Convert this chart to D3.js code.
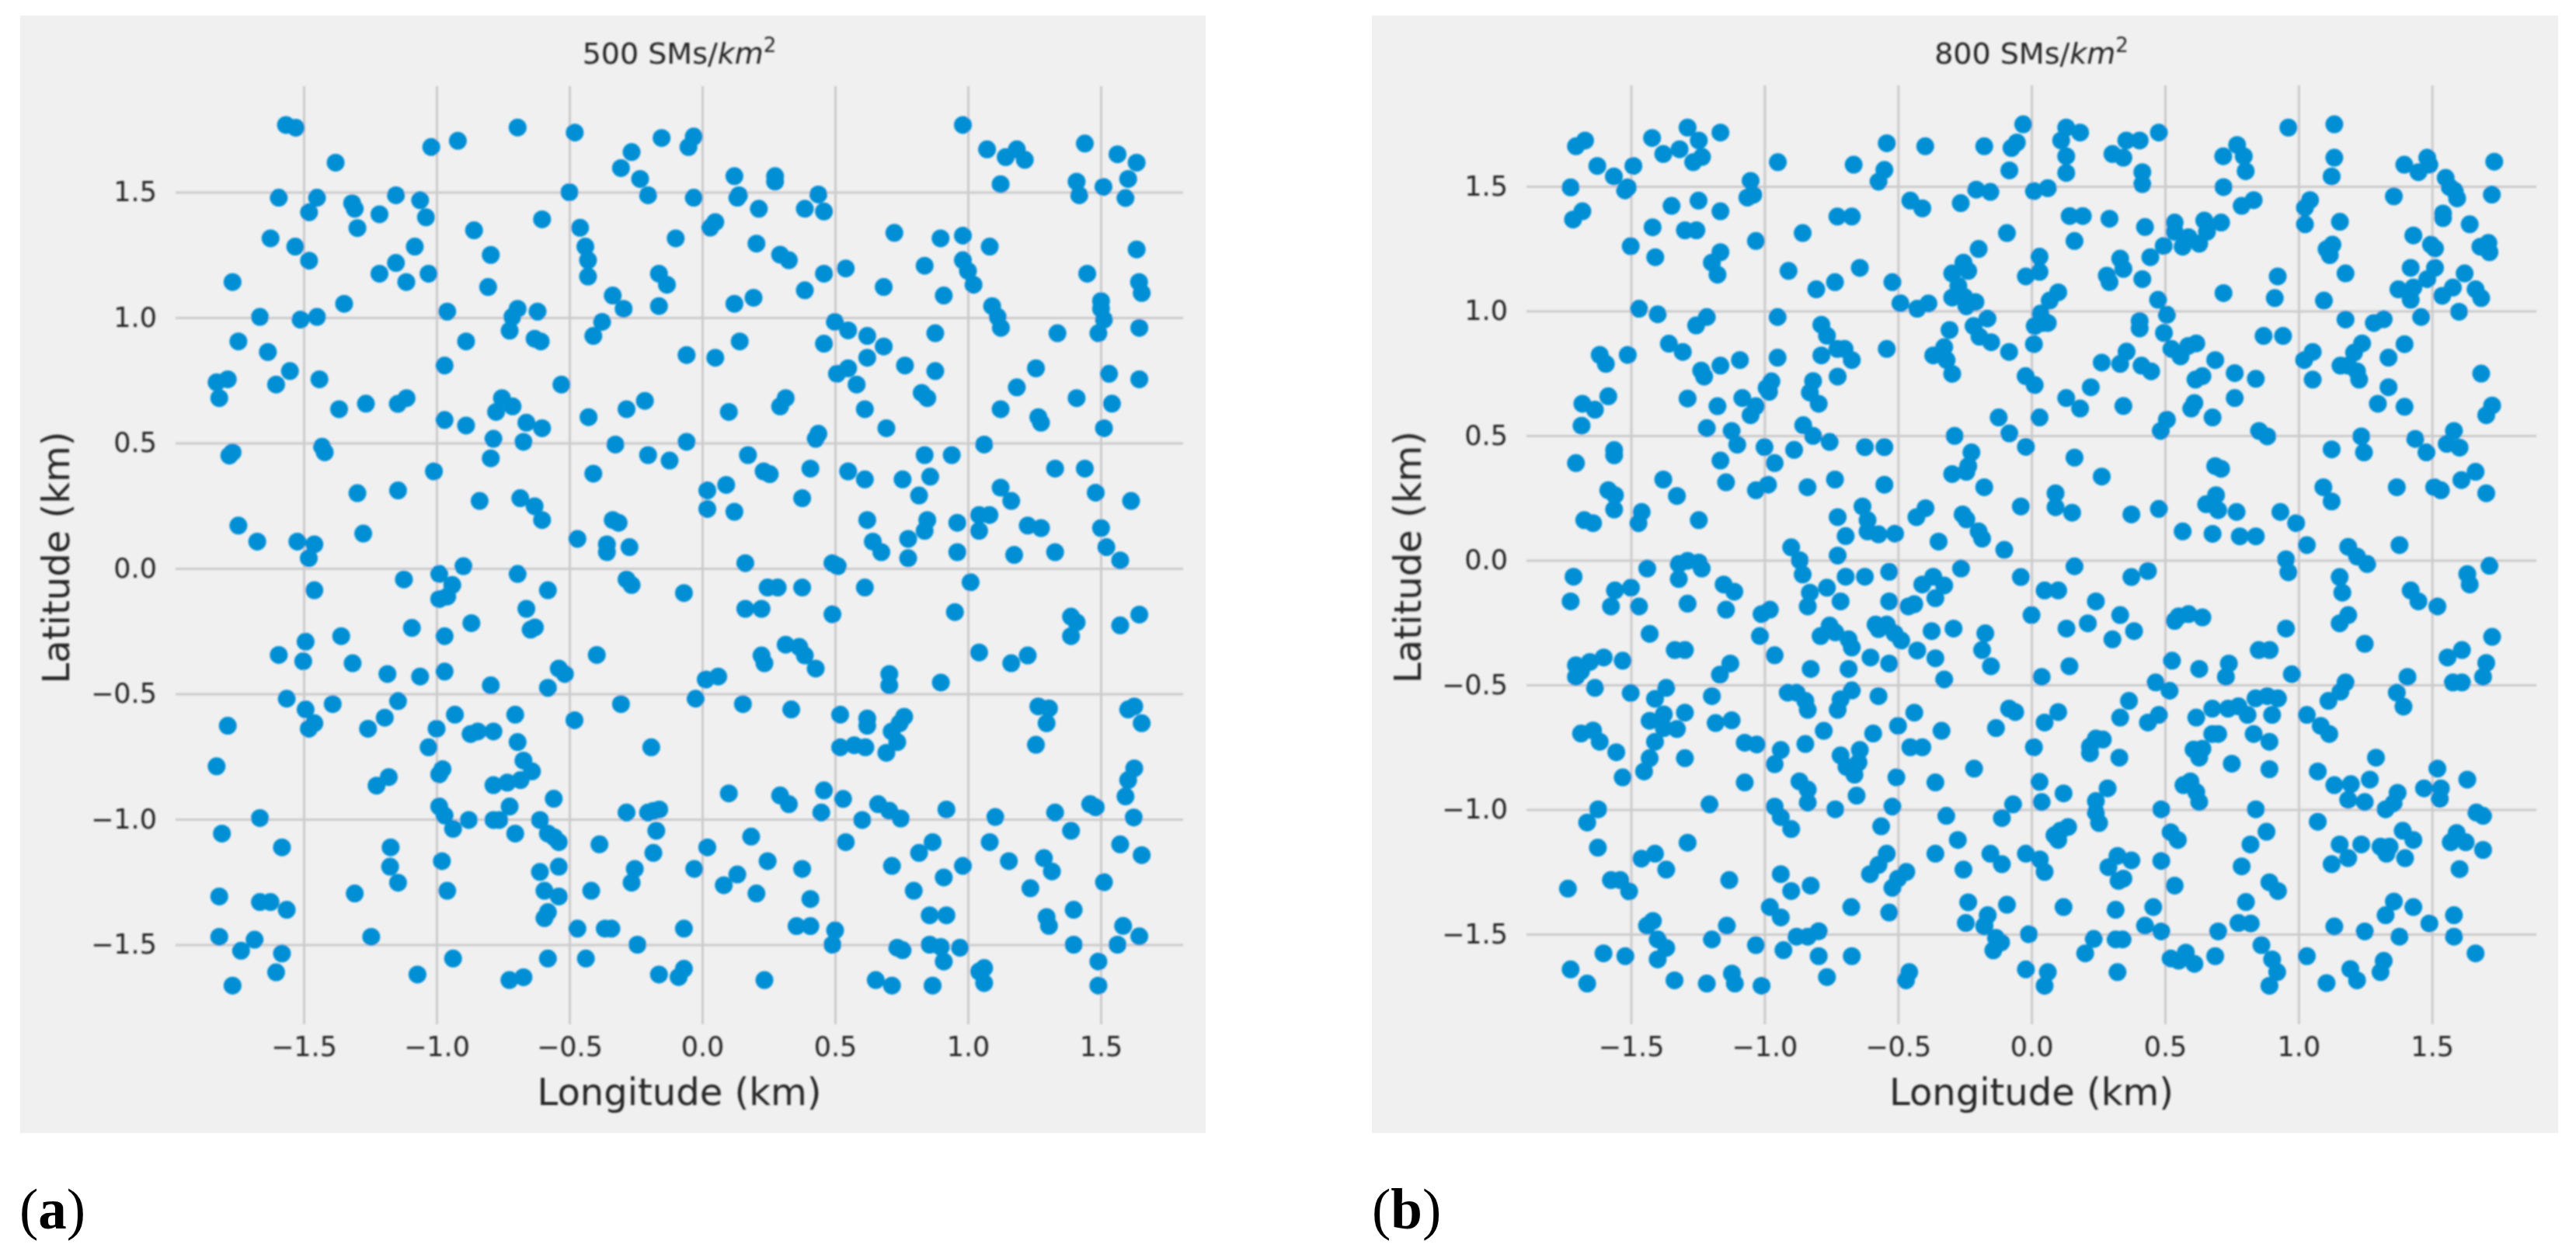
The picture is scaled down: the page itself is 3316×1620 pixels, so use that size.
<!DOCTYPE html>
<html>
<head>
<meta charset="utf-8">
<script src="https://d3js.org/d3.v7.min.js"></script>
<style>
  html, body { margin: 0; background: white; }
  svg { display: block; }
  text { font-family: "DejaVu Sans"; fill: #262626; }
</style>
</head>
<body>
<div id="chart"></div>
<script>
const tickValues = [-1.5, -1.0, -0.5, 0.0, 0.5, 1.0, 1.5];

// 500 SMs/km2
const lonA = [
-1.567,-1.53,-0.695,-0.48,-0.92,-1.02,-0.153,-0.032,-0.052,-0.266,
-1.38,-0.306,-0.234,-1.594,-1.45,-1.48,-1.318,-1.308,-1.215,-1.153,
-1.062,-1.04,-1.298,-0.5,-0.204,-0.032,-0.603,-0.859,-0.46,-1.625,
-1.532,-1.48,-1.082,-0.796,-0.44,-0.43,-0.10,-1.153,-1.215,-1.03,
-1.114,-1.768,-0.43,-0.163,-0.133,-0.806,-0.337,-1.348,-0.296,-0.695,
-0.715,-0.96,-0.62,-0.163,-1.665,-1.512,-1.45,-0.377,-0.725,-0.41,
-1.746,-0.889,-0.631,-0.608,-1.635,-0.059,-0.97,-1.828,-1.786,-1.552,
-1.441,-1.604,-0.53,-1.818,-1.113,-1.146,-1.266,-1.367,-0.754,-0.714,
-0.776,-0.216,-0.285,-0.97,-0.428,-0.662,-0.889,-0.603,-0.786,-0.673,
-0.327,-0.059,-1.431,-1.421,-1.768,-1.78,-0.796,-0.204,-0.123,-1.01,
-0.41,-1.145,-1.298,-0.838,-0.685,-0.631,-0.603,-0.337,-0.315,-1.746,
-1.276,-0.47,-1.675,-1.524,-1.46,-0.359,-0.359,-0.274,-1.481,-0.899,
-0.99,-0.695,-1.123,-0.285,-0.266,-0.941,-1.46,-0.581,-0.069,-0.96,
-0.99,-0.662,
0.121,0.138,0.132,0.274,0.274,0.213,0.386,0.437,0.458,0.049,
0.03,0.204,0.293,0.326,0.458,0.54,0.386,0.121,0.193,0.499,
0.549,0.621,0.683,0.621,0.458,0.141,0.049,0.549,0.507,0.581,
0.612,0.693,0.314,0.293,0.1,0.437,0.427,0.172,0.231,0.254,
0.407,0.376,0.09,0.019,0.019,0.121,0.162,0.49,0.51,0.621,
0.642,0.674,0.246,0.284,0.376,0.612,0.162,0.223,0.49,
0.723,0.897,0.981,1.082,0.837,0.981,1.0,1.021,0.683,0.909,
1.091,1.112,1.124,0.877,0.763,0.877,0.826,0.847,0.981,1.072,
1.142,1.184,1.214,1.123,1.44,1.563,1.635,1.603,1.409,1.419,
1.51,1.593,1.635,1.449,1.644,1.654,1.501,1.501,1.512,1.491,
1.337,1.645,1.256,1.531,1.645,1.184,1.123,1.409,1.542,1.265,
1.275,1.512,1.061,0.837,0.939,1.328,1.44,0.549,0.612,0.754,
0.858,0.816,1.123,1.163,1.481,1.614,1.042,1.081,1.042,0.847,
0.837,0.96,1.225,1.275,1.501,1.521,1.573,0.775,0.775,0.96,
1.174,1.328,1.01,0.951,
-0.646,-0.63,-0.869,-1.093,-1.359,-1.493,-0.97,-1.594,-0.397,-1.502,
-1.316,-1.185,-1.062,-0.97,-0.54,-0.517,-0.796,-0.581,-1.564,-1.391,
-1.145,-0.306,-0.025,-1.493,-0.931,-0.704,-1.195,-0.481,-1.786,-1.46,
-1.481,-1.258,-1.0,-0.845,-0.872,-0.786,-0.695,-1.03,-0.192,-0.673,
-1.828,-0.978,-0.99,-0.641,-0.684,-0.734,-0.786,-1.18,-1.226,-0.559,
-0.99,-0.725,-0.97,-0.285,-0.204,-0.162,-0.184,-1.665,-0.879,-0.786,
-0.764,-0.611,-0.938,-0.704,-0.581,-0.557,-0.54,-0.173,-1.808,-1.582,
-1.173,-0.387,-0.184,-0.98,-1.175,-0.54,-0.254,-0.611,-0.03,-1.145,
-0.266,-0.96,-0.594,-0.418,-1.308,-0.54,-1.818,-1.665,-1.625,-1.564,
-0.581,-0.594,-0.47,-0.367,-0.342,-0.069,-1.818,-1.246,-1.685,-0.244,
-1.736,-1.582,-0.938,-0.581,-0.438,-1.604,-1.072,-0.163,-0.069,-0.089,
-0.673,-0.726,-1.768,
1.388,1.409,1.388,1.573,1.645,1.042,1.163,1.225,0.223,0.234,
0.314,0.365,0.386,0.427,0.06,0.013,0.704,0.704,0.898,0.153,
0.335,0.519,0.621,0.621,0.76,0.743,0.713,0.734,0.519,0.572,
0.614,0.693,1.265,1.305,1.296,1.256,1.603,1.626,1.654,1.626,
1.603,1.593,0.1,0.293,0.326,0.458,0.53,0.448,0.662,0.704,
0.747,0.602,0.919,1.103,1.328,1.46,1.481,1.624,1.388,1.573,
1.654,0.184,0.019,0.54,0.867,0.816,1.082,0.246,1.154,1.286,
1.316,0.132,0.081,0.376,0.714,0.981,0.909,0.796,1.235,1.512,
0.204,0.407,1.398,0.856,0.919,1.296,1.305,0.355,0.407,0.5,
1.584,1.645,0.49,1.398,1.563,0.734,0.754,0.856,0.898,0.97,
0.909,1.491,1.061,1.042,1.061,0.653,0.714,0.867,1.491,0.234
];
const latA = [
1.768,1.757,1.758,1.738,1.705,1.68,1.716,1.722,1.68,1.66,
1.618,1.596,1.553,1.478,1.478,1.42,1.456,1.434,1.412,1.488,
1.468,1.40,1.357,1.5,1.488,1.478,1.392,1.348,1.358,1.316,
1.283,1.227,1.283,1.25,1.283,1.229,1.316,1.218,1.175,1.175,
1.142,1.142,1.164,1.175,1.131,1.122,1.088,1.055,1.035,1.035,
1.003,1.024,1.024,1.046,1.003,0.992,1.003,0.983,0.948,0.927,
0.905,0.905,0.916,0.905,0.863,0.851,0.809,0.742,0.754,0.787,
0.754,0.733,0.733,0.679,0.679,0.656,0.657,0.635,0.679,0.646,
0.624,0.668,0.635,0.592,0.603,0.581,0.57,0.559,0.517,0.505,
0.494,0.505,0.485,0.463,0.463,0.45,0.439,0.452,0.43,0.387,
0.378,0.311,0.30,0.269,0.28,0.248,0.193,0.193,0.182,0.171,
0.139,0.118,0.107,0.107,0.096,0.096,0.065,0.085,0.041,0.009,
-0.022,-0.022,-0.044,-0.044,-0.066,-0.066,-0.087,-0.087,-0.098,-0.112,
-0.122,-0.161,
1.564,1.488,1.478,1.564,1.542,1.434,1.434,1.491,1.423,1.381,
1.359,1.295,1.251,1.229,1.175,1.196,1.109,1.055,1.079,0.983,
0.949,0.927,0.885,0.84,0.896,0.905,0.84,0.798,0.776,0.733,
0.635,0.559,0.679,0.646,0.624,0.537,0.517,0.452,0.387,0.376,
0.398,0.28,0.333,0.311,0.237,0.226,0.021,0.021,0.009,0.193,
0.107,0.065,-0.076,-0.076,-0.076,-0.076,-0.161,-0.161,-0.183,
1.338,1.316,1.327,1.283,1.207,1.229,1.186,1.131,1.122,1.088,
1.046,1.003,0.959,0.938,0.809,0.787,0.70,0.679,1.768,1.671,
1.64,1.671,1.629,1.532,1.694,1.651,1.618,1.553,1.542,1.488,
1.521,1.477,1.272,1.175,1.142,1.098,1.066,1.035,0.992,0.938,
0.938,0.959,0.798,0.776,0.754,0.722,0.635,0.679,0.657,0.603,
0.581,0.559,0.494,0.452,0.452,0.398,0.398,0.387,0.355,0.355,
0.366,0.291,0.322,0.269,0.302,0.269,0.213,0.213,0.15,0.193,
0.15,0.182,0.171,0.161,0.161,0.085,0.032,0.118,0.041,0.065,
0.054,0.065,-0.055,-0.174,
-0.244,-0.235,-0.218,-0.237,-0.27,-0.292,-0.27,-0.345,-0.345,-0.37,
-0.378,-0.421,-0.431,-0.411,-0.399,-0.421,-0.466,-0.476,-0.519,-0.541,
-0.529,-0.541,-0.519,-0.562,-0.583,-0.583,-0.595,-0.605,-0.627,-0.617,
-0.639,-0.639,-0.639,-0.65,-0.66,-0.65,-0.692,-0.713,-0.713,-0.766,
-0.789,-0.80,-0.821,-0.809,-0.844,-0.854,-0.864,-0.832,-0.866,-0.918,
-0.949,-0.949,-0.985,-0.973,-0.973,-0.961,-0.967,-0.995,-1.003,-1.003,
-1.003,-1.003,-1.038,-1.057,-1.057,-1.072,-1.091,-1.046,-1.057,-1.112,
-1.112,-1.10,-1.134,-1.167,-1.189,-1.189,-1.198,-1.21,-1.198,-1.253,
-1.253,-1.285,-1.285,-1.285,-1.296,-1.308,-1.308,-1.33,-1.33,-1.361,
-1.37,-1.394,-1.436,-1.436,-1.436,-1.436,-1.469,-1.469,-1.48,-1.5,
-1.524,-1.535,-1.555,-1.555,-1.555,-1.61,-1.619,-1.619,-1.596,-1.629,
-1.63,-1.641,-1.663,
-0.192,-0.215,-0.27,-0.227,-0.184,-0.335,-0.378,-0.347,-0.347,-0.378,
-0.304,-0.313,-0.347,-0.399,-0.431,-0.443,-0.421,-0.466,-0.455,-0.541,
-0.562,-0.583,-0.598,-0.627,-0.591,-0.617,-0.65,-0.692,-0.713,-0.705,
-0.713,-0.735,-0.55,-0.558,-0.617,-0.703,-0.562,-0.55,-0.617,-0.797,
-0.844,-0.909,-0.897,-0.905,-0.94,-0.885,-0.919,-0.973,-0.94,-0.966,
-0.997,-1.003,-0.961,-0.991,-0.973,-0.94,-0.952,-0.993,-1.046,-1.10,
-1.143,-1.069,-1.112,-1.091,-1.091,-1.134,-1.091,-1.167,-1.167,-1.155,
-1.208,-1.22,-1.263,-1.198,-1.186,-1.186,-1.232,-1.285,-1.275,-1.251,
-1.296,-1.318,-1.361,-1.383,-1.383,-1.39,-1.425,-1.426,-1.426,-1.443,
-1.425,-1.467,-1.5,-1.5,-1.5,-1.512,-1.522,-1.5,-1.509,-1.512,
-1.567,-1.567,-1.593,-1.607,-1.653,-1.641,-1.663,-1.663,-1.663,-1.641
];

// 800 SMs/km2
const lonB = [
-1.672,-1.706,-1.421,-1.288,-1.246,-1.165,-1.318,-1.379,-1.234,-1.267,
-0.95,-0.542,-0.398,-0.177,-0.666,-0.551,-0.573,-1.626,-1.491,-1.564,
-1.512,-1.522,-1.726,-1.052,-1.042,-1.064,-1.247,-0.454,-0.409,-0.265,
-0.207,-1.348,-1.165,-1.682,-1.717,-0.727,-0.673,-1.419,-1.298,-1.255,
-0.857,-1.032,-1.501,-1.165,-0.198,-1.409,-1.197,-0.255,-0.297,-0.237,
-1.176,-0.91,-0.643,-0.736,-0.521,-0.806,-0.274,-0.297,-0.252,-0.244,
-0.491,-0.428,-0.386,-1.47,-1.4,-1.216,-1.256,-0.951,-0.787,-0.766,
-0.307,-0.542,-1.358,-1.306,-0.727,-0.7,-0.673,-0.787,-0.951,-1.512,
-1.617,-1.594,-1.092,-1.165,-1.237,-1.226,-0.327,-0.368,-0.318,-0.297,
-0.726,-0.974,-0.992,-0.983,-0.818,-0.83,-0.797,-1.288,-1.585,-1.682,
-1.635,-1.176,-1.083,-1.032,-1.052,-1.685,-1.216,-1.123,-0.855,-0.818,
-0.288,-1.102,-0.756,-1.0,-0.889,-0.624,-0.551,-0.225,-1.563,-1.563,
-1.706,-1.165,-0.962,-0.237,-0.297,-0.244,-1.379,-1.144,-0.736,-0.987,
-1.032,-0.839,-0.551,-0.177,-1.585,-1.56,-1.328,-0.633,-0.397,-0.431,
-0.258,-0.244,-1.46,-1.563,-1.472,-1.675,-1.642,-1.246,-0.726,-0.614,
-0.614,-0.573,-0.511,-0.696,-0.348,-0.198,-0.9,-0.726,-0.868,
-0.154,-0.21,-0.217,-0.165,-0.195,-0.151,-0.084,-0.185,-0.102,
-0.031,-0.055,-0.075,-0.083,0.13,0.182,0.111,0.13,0.13,0.009,
0.061,0.355,0.405,0.477,0.303,0.344,0.415,0.415,0.718,0.77,
0.795,0.802,0.719,0.832,0.787,0.962,1.134,1.134,1.124,1.043,
1.024,1.024,1.155,1.357,1.396,1.449,1.482,1.49,1.551,1.566,
1.585,1.594,1.733,1.724,1.541,1.541,1.641,1.43,1.496,1.511,
1.711,1.681,1.715,1.127,1.105,1.117,1.176,0.922,0.911,1.095,
0.719,1.42,1.511,1.482,1.622,1.374,1.43,1.42,1.578,1.538,
1.663,1.684,1.601,1.459,1.176,1.282,1.319,0.869,0.942,1.397,
1.337,1.238,1.208,1.053,1.021,1.157,1.186,1.219,1.227,1.053,
1.684,1.337,1.297,1.397,1.725,1.703,0.852,0.883,1.235,1.437,
1.582,1.555,1.603,1.479,1.124,1.245,1.663,1.61,1.703,1.368,
1.508,1.533,1.093,1.124,0.688,0.71,0.691,0.654,0.699,0.768,
0.932,0.991,0.566,0.678,0.78,0.84,1.031,1.186,1.378,1.219,
1.257,0.953,0.962,1.715,1.632,1.154,
0.536,0.647,0.71,0.657,0.628,0.566,0.588,0.536,0.495,0.445,
0.332,0.344,0.282,0.292,0.415,0.143,0.192,0.292,0.425,0.161,
-0.092,0.03,0.03,-0.021,0.1,0.068,0.474,0.507,0.034,0.041,
0.012,0.061,0.009,0.405,0.405,0.496,0.356,0.332,0.263,0.412,
0.448,0.524,0.558,0.587,0.617,0.688,0.64,0.614,0.761,0.84,
0.761,0.61,0.598,0.678,0.507,0.484,-0.022,0.012,0.222,0.13,
0.182,0.344,0.03,-0.123,-0.083,-0.021,0.161,0.263,0.09,0.09,
0.152,-0.04,0.374,0.477,0.161,0.436,0.374,-0.04,
-0.857,-1.715,-1.726,-1.439,-1.56,-1.5,-1.575,-1.47,-1.321,-1.288,
-1.246,-1.235,-1.321,-1.288,-1.153,-1.113,-1.144,-0.98,-1.011,-0.83,
-0.838,-0.766,-0.715,-0.696,-0.624,-0.533,-0.533,-0.409,-0.368,-0.327,
-0.36,-0.264,-0.439,-0.461,-1.43,-1.017,-0.756,-0.79,-0.735,-0.685,
-0.673,-0.584,-0.573,-0.542,-0.513,-0.488,-0.428,-0.374,-0.292,-1.336,
-1.298,-0.962,-1.706,-1.706,-1.687,-1.654,-1.602,-1.531,-1.128,-1.167,
-0.827,-0.685,-0.603,-0.533,-0.36,-0.327,-1.635,-1.501,-1.368,-1.41,
-1.197,-0.913,-0.88,-0.847,-0.838,-0.673,-0.715,-0.726,-0.573,-0.439,
-1.377,-1.298,-1.43,-1.388,-1.377,-1.328,-1.183,-1.123,-1.687,-1.642,
-1.617,-0.778,-0.593,-0.5,-0.337,-1.41,-1.074,-1.029,-0.847,-0.454,
-0.409,-1.555,-0.939,-0.643,-0.715,-1.43,-1.298,-0.962,-0.693,-0.648,
-0.663,-0.215,-1.451,-1.531,-0.506,-0.36,-1.074,-0.869,-0.838,-0.655,
-1.206,-0.838,-0.962,-0.735,-0.521,-1.623,-1.664,-0.939,-0.9,-0.319,
-0.563,-1.288,-1.624,-0.276,-0.542,-0.36,-1.41,-1.461,-1.368,-0.573,
-0.605,-0.255,-0.469,-0.5,-0.521,-1.132,-1.575,-1.54,-1.507,-0.939,
-0.827,-0.9,-1.736,-0.98,-0.675,-0.939,-0.237,-0.533,-0.246,-1.418,
-1.44,-1.141,-0.797,-0.838,-0.88,-1.4,-1.368,-1.197,-1.032,-0.929,
-1.603,-1.521,-1.4,-0.797,-0.673,-0.177,-1.726,-1.664,-1.122,-1.111,
-1.216,-1.337,-1.011,-0.766,-0.458,-0.47,
0.049,0.1,0.241,0.332,0,0.211,0.131,0.303,0.384,0.536,
0.551,0.588,0.64,0.953,1.164,1.186,1.154,1.248,1.42,1.449,
1.52,1.641,1.725,1.612,1.558,1.703,1.691,1.408,1.368,1.393,
1.578,1.612,1.176,1.157,1.112,0.975,0.851,0.892,0.739,0.728,
0.628,0.526,0.465,0.517,0.142,0.038,-0.173,-0.185,-0.152,0.365,
-0.084,-0.061,0.1,0.049,-0.133,0.332,0.477,0.436,0.617,0.677,
0.736,0.775,0.809,0.839,0.883,0.923,0.901,1.031,1.083,1.115,
0.677,0.699,0.832,0.891,0.009,0.241,0.267,0.219,0.219,0.329,
0.607,0.64,0.628,0.75,0.891,1.29,1.072,1.52,1.267,1.632,
0.03,0.285,0.569,0.595,1.134,1.196,1.371,1.47,1.533,0.12,
0.038,-0.069,0.241,0.617,0.628,1.186,1.248,1.356,1.326,1.529,
0.486,0.84,0.241,-0.111,0.253,1.666,1.691,1.072,0.88,0.521,
0.548,0.137,0.108,0.086,0.1,1.39,1.43,1.592,1.57,1.626,
0.82,1.154,1.235,1.307,1.341,1.329,1.691,-0.154,-0.021,0.031,
-0.111,0.049,0.322,0.374,0.288,0.486,1.186,1.124,1.399,1.603,
0.787,0.344,0.326,0.536,0.891,0.923,0.803,-0.092,0.12,0.315,
0.456,1.357,1.43,1.326,1.582,1.49,-0.164,-0.176,0.425,0.486,
0.775,0.821,1.134,0.699,1.248,-0.01,0.233,0.315,0.341,1.378,
1.582,-0.133,-0.114,-0.143,0.861,0.201,1.663,0.521,0.551,0.578,
0.61,0.688,0.901,1.031,1.319,1.307,0.92,1.194,1.219,-0.021,
0.061,0.322,0.049,0.891,1.105
];
const latB = [
1.684,1.661,1.694,1.736,1.684,1.716,1.649,1.63,1.618,1.597,
1.597,1.673,1.661,1.661,1.587,1.566,1.519,1.582,1.582,1.54,
1.496,1.484,1.496,1.522,1.466,1.455,1.443,1.443,1.412,1.433,
1.487,1.422,1.40,1.40,1.367,1.379,1.379,1.336,1.324,1.324,
1.313,1.281,1.26,1.236,1.249,1.216,1.194,1.194,1.151,1.161,
1.146,1.161,1.173,1.116,1.116,1.087,1.101,1.054,1.057,1.019,
1.031,1.009,1.03,1.009,0.987,0.976,0.942,0.976,0.945,0.901,
0.924,0.848,0.869,0.836,0.848,0.848,0.803,0.822,0.813,0.824,
0.824,0.788,0.803,0.781,0.761,0.737,0.855,0.822,0.803,0.748,
0.737,0.718,0.691,0.676,0.719,0.673,0.628,0.649,0.658,0.628,
0.604,0.618,0.651,0.618,0.582,0.54,0.53,0.519,0.542,0.499,
0.499,0.464,0.475,0.454,0.443,0.454,0.454,0.433,0.442,0.421,
0.39,0.40,0.39,0.378,0.346,0.355,0.324,0.313,0.324,0.303,
0.281,0.293,0.303,0.293,0.281,0.261,0.258,0.216,0.209,0.173,
0.184,0.164,0.194,0.204,0.149,0.161,0.149,0.161,0.173,0.161,
0.116,0.104,0.107,0.097,0.075,0.116,0.052,0.019,0,
1.478,1.036,0.94,0.97,0.897,0.875,0.836,0.087,0.042,
1.749,1.676,1.654,1.564,1.736,1.716,1.684,1.621,1.554,1.481,
1.493,1.684,1.684,1.716,1.63,1.615,1.557,1.509,1.621,1.666,
1.621,1.561,1.497,1.445,1.422,1.736,1.749,1.615,1.54,1.445,
1.415,1.348,1.358,1.46,1.587,1.557,1.615,1.587,1.534,1.497,
1.482,1.452,1.599,1.467,1.391,1.373,1.348,1.303,1.266,1.251,
1.273,1.258,1.236,1.266,1.248,1.224,1.151,1.139,1.052,1.042,
1.072,1.173,1.173,1.128,1.151,1.087,1.094,1.045,1.094,1.061,
1.087,1.052,0.997,0.976,0.966,0.952,0.967,0.90,0.90,0.867,
0.813,0.87,0.833,0.836,0.803,0.781,0.781,0.758,0.725,0.725,
0.749,0.694,0.628,0.616,0.621,0.582,0.519,0.497,0.497,0.487,
0.519,0.467,0.452,0.433,0.445,0.433,0.355,0.322,0.269,0.293,
0.293,0.281,0.293,0.236,0.378,0.367,0.261,0.225,0.201,0.194,
0.194,0.149,0.116,0.106,0.096,0.096,0.061,0.054,0.061,0.015,
-0.015,0.004,-0.048,-0.022,-0.055,-0.067,
1.355,1.363,1.355,1.318,1.27,1.258,1.296,1.318,1.261,1.216,
1.21,1.169,1.142,1.116,1.128,1.381,1.381,1.37,1.337,1.281,
1.313,1.218,1.157,1.139,1.075,1.042,1.045,0.985,0.99,0.952,
0.94,0.952,0.867,0.96,0.93,0.912,0.837,0.788,0.793,0.781,
0.758,0.848,0.818,0.86,0.87,0.803,0.739,0.725,0.751,0.728,
0.651,0.631,0.609,0.573,0.564,0.519,0.739,0.703,0.694,0.651,
0.609,0.619,0.573,0.573,0.509,0.455,0.412,0.336,0.269,0.213,
0.191,0.216,0.184,0.206,-0.024,-0.043,-0.067,-0.067,
-0.057,-0.066,-0.165,-0.033,-0.121,-0.11,-0.185,-0.185,-0.015,-0.002,
-0.009,-0.033,-0.075,-0.174,-0.097,-0.126,-0.198,-0.198,-0.216,-0.13,
-0.185,-0.11,-0.165,-0.066,-0.066,-0.046,-0.165,-0.097,-0.066,-0.101,
-0.152,-0.033,-0.176,-0.185,-0.295,-0.304,-0.262,-0.304,-0.289,-0.317,
-0.35,-0.258,-0.276,-0.258,-0.293,-0.322,-0.362,-0.284,-0.274,-0.36,
-0.36,-0.381,-0.421,-0.468,-0.445,-0.408,-0.39,-0.403,-0.414,-0.459,
-0.436,-0.436,-0.39,-0.414,-0.393,-0.478,-0.512,-0.532,-0.512,-0.556,
-0.545,-0.531,-0.531,-0.564,-0.6,-0.522,-0.558,-0.6,-0.545,-0.611,
-0.618,-0.611,-0.644,-0.646,-0.673,-0.677,-0.653,-0.642,-0.695,-0.683,
-0.728,-0.684,-0.695,-0.664,-0.684,-0.728,-0.732,-0.739,-0.737,-0.75,
-0.75,-0.77,-0.761,-0.761,-0.783,-0.794,-0.794,-0.818,-0.829,-0.811,
-0.86,-0.836,-0.847,-0.871,-0.871,-0.891,-0.891,-0.887,-0.92,-0.944,
-0.979,-0.972,-0.988,-0.999,-0.988,-0.999,-1.052,-1.03,-1.078,-1.025,
-1.067,-1.133,-1.153,-1.122,-1.177,-1.177,-1.177,-1.197,-1.241,-1.222,
-1.259,-1.241,-1.25,-1.277,-1.314,-1.283,-1.283,-1.283,-1.328,-1.259,
-1.305,-1.327,-1.317,-1.391,-1.391,-1.433,-1.372,-1.413,-1.455,-1.447,
-1.466,-1.466,-1.488,-1.51,-1.51,-1.521,-1.555,-1.521,-1.544,-1.564,
-1.577,-1.588,-1.601,-1.588,-1.588,-1.469,-1.641,-1.698,-1.658,-1.698,
-1.698,-1.685,-1.707,-1.672,-1.652,-1.685,
-0.121,-0.121,-0.165,-0.22,-0.22,-0.253,-0.274,-0.317,-0.284,-0.243,
-0.225,-0.216,-0.229,-0.274,-0.13,-0.22,-0.253,-0.335,-0.121,-0.165,
-0.185,-0.097,-0.307,-0.36,-0.39,-0.412,-0.468,-0.468,-0.531,-0.587,
-0.49,-0.49,-0.49,-0.527,-0.564,-0.457,-0.36,-0.36,-0.414,-0.468,
-0.436,-0.403,-0.49,-0.523,-0.425,-0.468,-0.293,-0.36,-0.425,-0.564,
-0.595,-0.609,-0.609,-0.651,-0.673,-0.631,-0.62,-0.651,-0.631,-0.595,
-0.595,-0.586,-0.62,-0.554,-0.545,-0.554,-0.62,-0.62,-0.664,-0.697,
-0.697,-0.697,-0.697,-0.728,-0.75,-0.715,-0.719,-0.747,-0.774,-0.792,
-0.759,-0.756,-0.792,-0.816,-0.838,-0.792,-0.847,-0.836,-0.88,-0.88,
-0.889,-0.915,-0.902,-0.887,-0.902,-0.898,-0.933,-0.915,-0.915,-0.935,
-0.97,-0.979,-0.966,-0.93,-0.97,-0.961,-0.97,-0.975,-0.999,-0.957,
-0.999,-0.999,-1.012,-1.034,-1.054,-1.012,-1.025,-1.049,-1.089,-1.091,
-1.122,-1.07,-1.085,-1.103,-1.122,-1.085,-1.122,-1.094,-1.131,-1.131,
-1.14,-1.14,-1.14,-1.149,-1.149,-1.177,-1.162,-1.177,-1.177,-1.2,
-1.219,-1.25,-1.186,-1.204,-1.231,-1.206,-1.195,-1.219,-1.195,-1.239,
-1.228,-1.277,-1.286,-1.305,-1.292,-1.327,-1.371,-1.382,-1.391,-1.402,
-1.391,-1.369,-1.391,-1.424,-1.424,-1.457,-1.424,-1.466,-1.466,-1.489,
-1.455,-1.457,-1.469,-1.489,-1.489,-1.5,-1.519,-1.521,-1.521,-1.51,
-1.51,-1.515,-1.533,-1.565,-1.544,-1.577,-1.577,-1.597,-1.606,-1.574,
-1.619,-1.588,-1.601,-1.588,-1.607,-1.652,-1.652,-1.64,-1.685,-1.641,
-1.652,-1.652,-1.707,-1.707,-1.696
];

const dotColor = '#008fd5';
const panelColor = '#f0f0f0';
const gridColor = '#cbcbcb';
const dotRadius = 11.5;

const svg = d3.select('#chart').append('svg')
  .attr('width', 3316)
  .attr('height', 1620);

const defs = svg.append('defs');
defs.append('filter')
  .attr('id', 'soft')
  .append('feGaussianBlur')
  .attr('stdDeviation', 0.9);

const tickLabel = d => d3.format('.1f')(d).replace('-', '\u2212');

function drawPanel({box, axes, xRange, yRange, lon, lat, density, letter, letterX}) {
  const xScale = d3.scaleLinear().domain([-1.5, 1.5]).range(xRange);
  const yScale = d3.scaleLinear().domain([-1.5, 1.5]).range(yRange);

  svg.append('rect')
    .attr('x', box.x)
    .attr('y', box.y)
    .attr('width', box.w)
    .attr('height', box.h)
    .attr('fill', panelColor);

  const g = svg.append('g').attr('filter', 'url(#soft)');

  // negative tick size turns the ticks into the grid
  const xAxis = g.append('g')
    .attr('transform', `translate(0, ${axes.bottom})`)
    .call(d3.axisBottom(xScale)
      .tickValues(tickValues)
      .tickSize(axes.top - axes.bottom)
      .tickPadding(16)
      .tickFormat(tickLabel));
  const yAxis = g.append('g')
    .attr('transform', `translate(${axes.left}, 0)`)
    .call(d3.axisLeft(yScale)
      .tickValues(tickValues)
      .tickSize(axes.left - axes.right)
      .tickPadding(24)
      .tickFormat(tickLabel));

  [xAxis, yAxis].forEach(axis => {
    axis.select('.domain').remove();
    axis.selectAll('line').attr('stroke', gridColor).attr('stroke-width', 3);
    axis.selectAll('text').attr('font-size', 35).style('font-family', '"DejaVu Sans"').attr('fill', '#262626');
  });

  g.append('g')
    .selectAll('circle')
    .data(lon)
    .join('circle')
    .attr('cx', d => xScale(d))
    .attr('cy', (d, i) => yScale(lat[i]))
    .attr('r', dotRadius)
    .attr('fill', dotColor);

  const midX = (axes.left + axes.right) / 2;
  g.append('text')
    .attr('x', midX)
    .attr('y', 1423)
    .attr('text-anchor', 'middle')
    .attr('font-size', 48)
    .text('Longitude (km)');

  g.append('text')
    .attr('transform', `translate(${box.x + 63}, ${(axes.top + axes.bottom) / 2 + 3}) rotate(-90)`)
    .attr('text-anchor', 'middle')
    .attr('font-size', 48)
    .text('Latitude (km)');

  const title = g.append('text')
    .attr('x', midX)
    .attr('y', 82)
    .attr('text-anchor', 'middle')
    .attr('font-size', 38);
  title.append('tspan').text(`${density} SMs/`);
  title.append('tspan').attr('font-style', 'italic').text('km');
  title.append('tspan').attr('font-size', 26).attr('dy', -15).text('2');

  const tag = svg.append('text')
    .attr('x', letterX)
    .attr('y', 1582)
    .style('font-family', '"Liberation Serif"')
    .style('fill', '#000')
    .attr('font-size', 73);
  tag.append('tspan').text('(');
  tag.append('tspan').attr('font-weight', 'bold').text(letter);
  tag.append('tspan').text(')');
}

drawPanel({
  box: {x: 26, y: 20, w: 1526, h: 1439},
  axes: {left: 226, right: 1523, top: 111, bottom: 1319},
  xRange: [391, 1417],
  yRange: [1216.5, 247.5],
  lon: lonA,
  lat: latA,
  density: 500,
  letter: 'a',
  letterX: 25
});

drawPanel({
  box: {x: 1766, y: 20, w: 1527, h: 1439},
  axes: {left: 1965, right: 3265, top: 110, bottom: 1319},
  xRange: [2099.5, 3130.7],
  yRange: [1203, 240],
  lon: lonB,
  lat: latB,
  density: 800,
  letter: 'b',
  letterX: 1766
});
</script>
</body>
</html>
